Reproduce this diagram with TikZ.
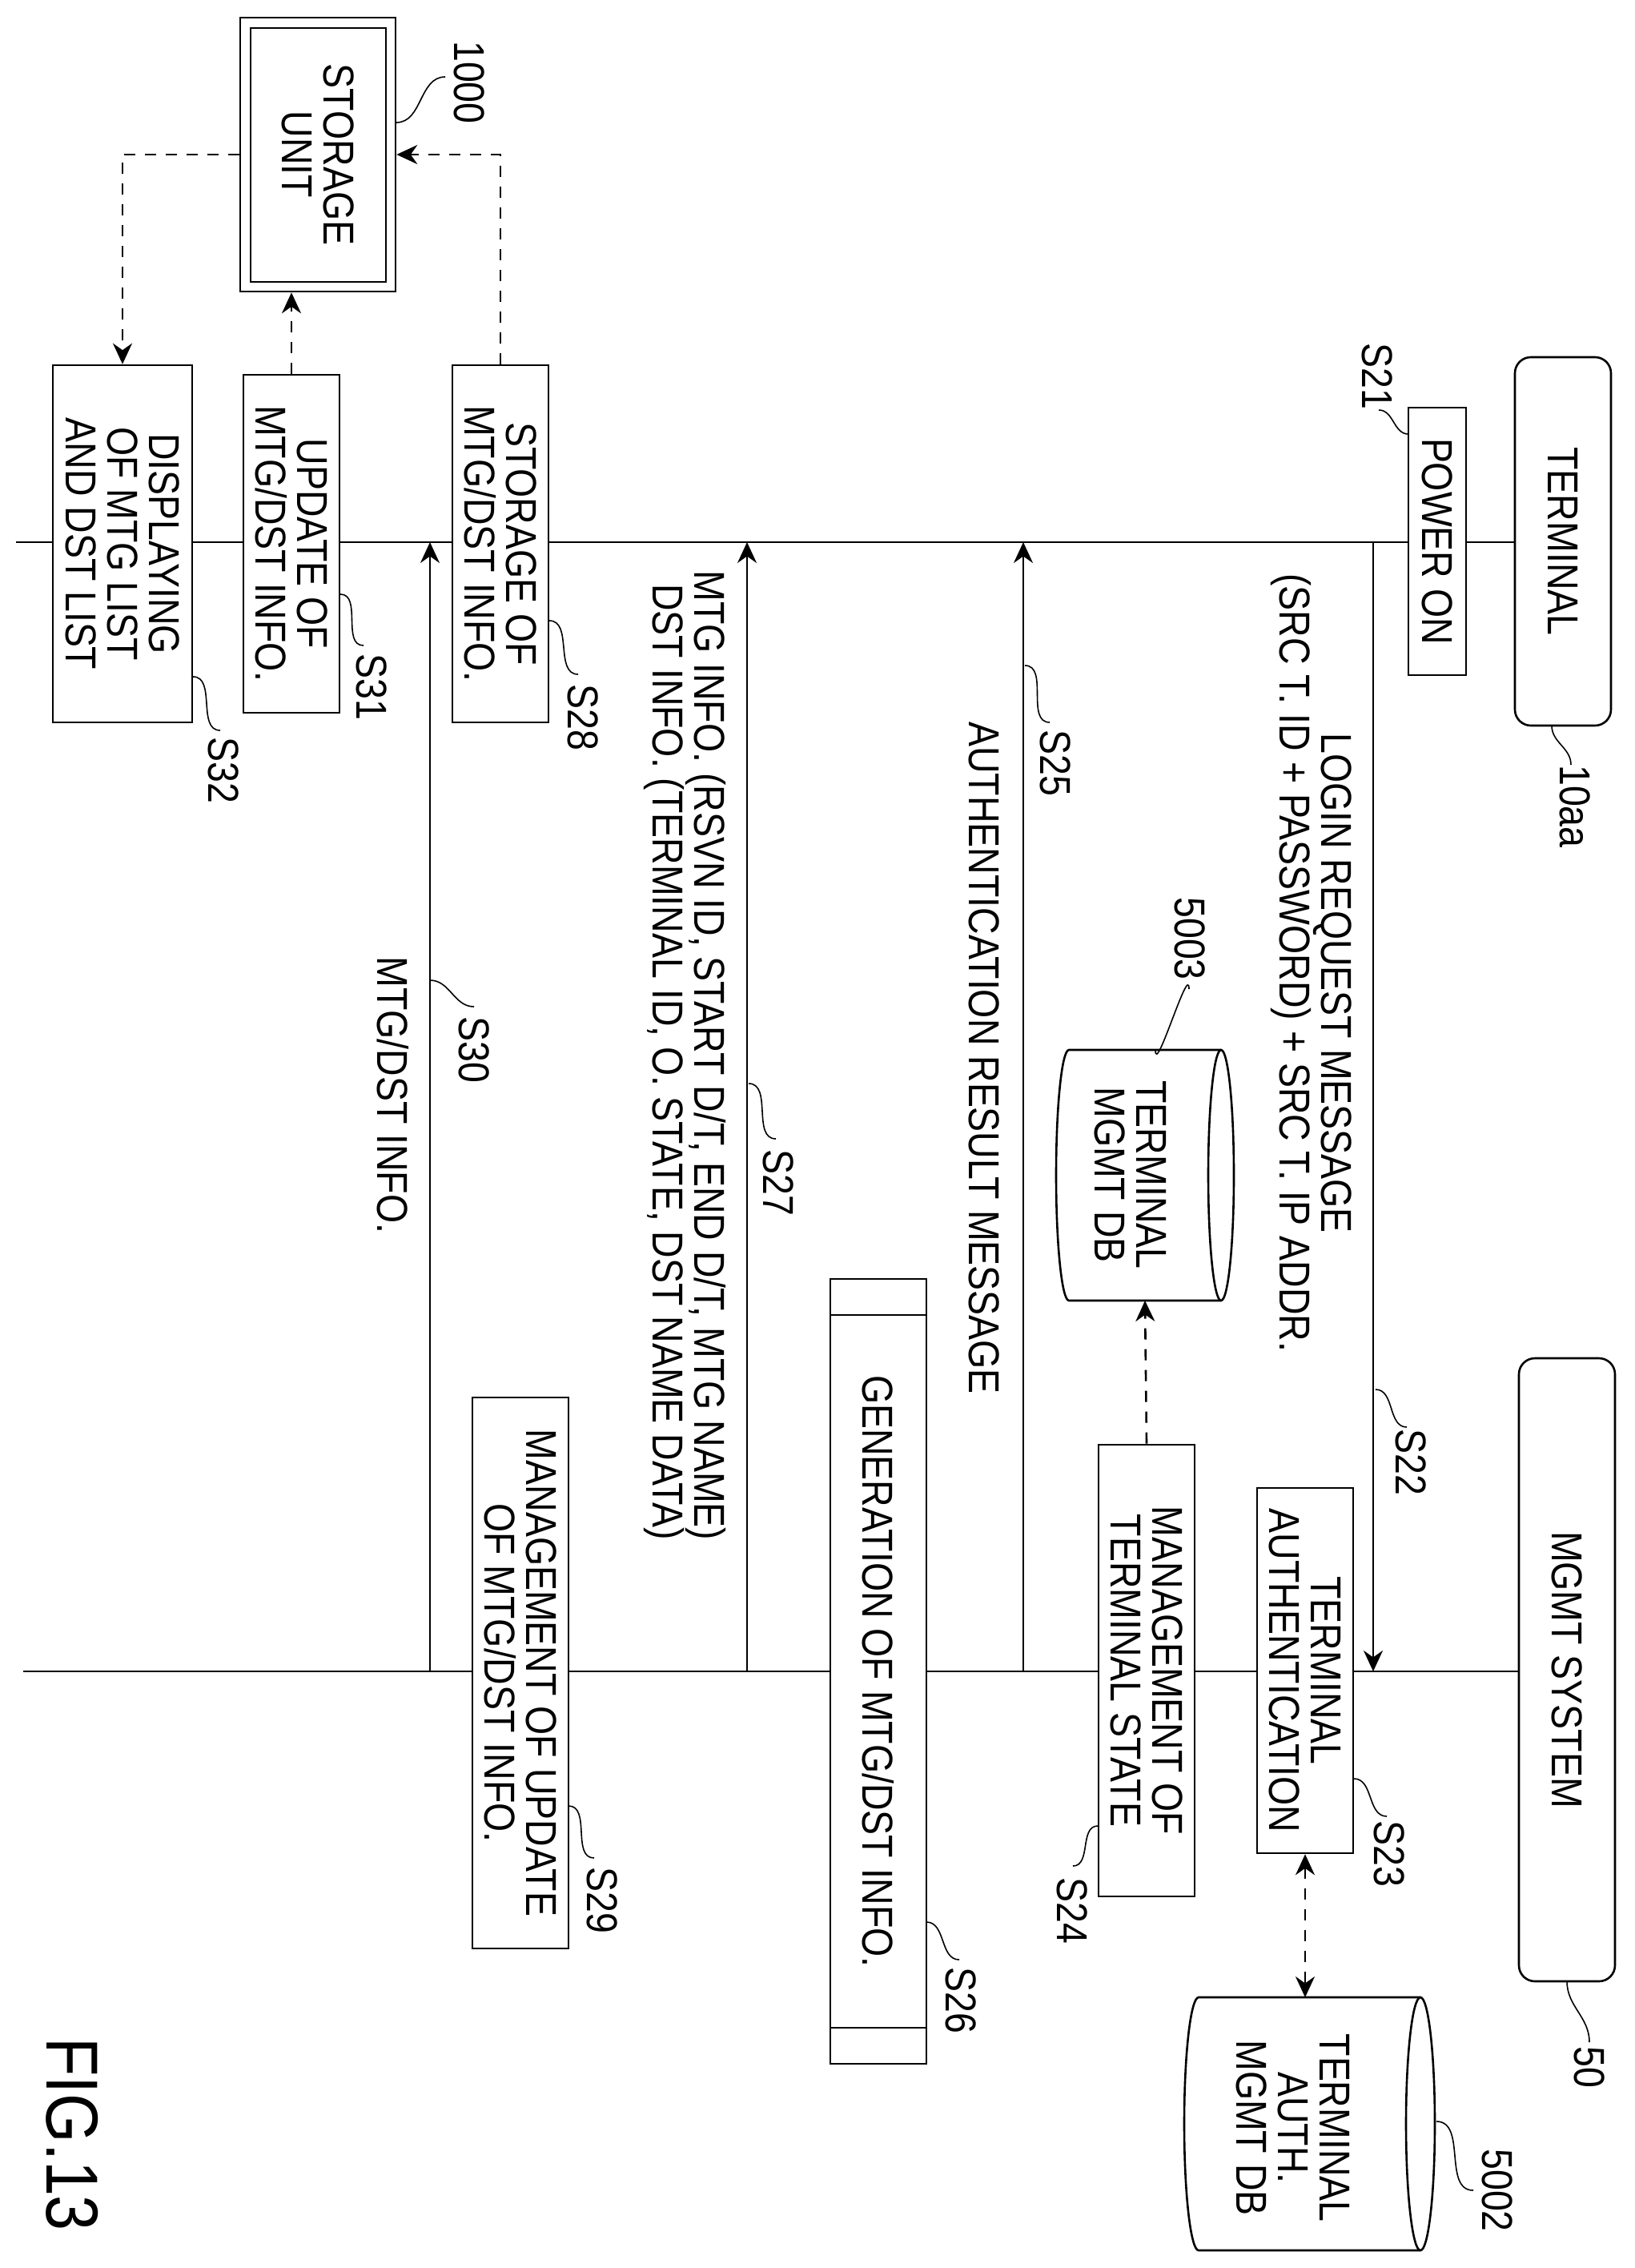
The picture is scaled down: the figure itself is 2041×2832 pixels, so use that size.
\documentclass[tikz,border=0pt]{standalone}
\usepackage{fontspec}
\setmainfont{Liberation Sans}[FakeStretch=0.86]
\usetikzlibrary{arrows.meta}
\begin{document}
\begin{tikzpicture}[x=0.5pt,y=-0.5pt,
  every node/.style={font=\fontsize{27}{26}\selectfont},
  ln/.style={line width=1.3pt},
  box/.style={ln,draw,fill=white,rotate=-90,align=center,inner sep=2pt},
  txt/.style={rotate=-90,inner sep=0pt,align=left},
  arr/.style={ln,-{Stealth[length=13pt,width=12pt]}},
  dsh/.style={ln,dash pattern=on 7pt off 6pt},
  lead/.style={line width=0.8pt}]
\useasboundingbox (0,0) rectangle (2041,2832);
% lifelines
\coordinate (tl0) at (20,677);
\coordinate (ml0) at (29,2087);
\draw[ln] (tl0) -- (1892,677);
\draw[ln] (ml0) -- (1897,2087);
% actors
\node[box,rounded corners=10pt,minimum width=230pt,minimum height=60pt] (term) at (1952,676) {TERMINAL};
\node[box,rounded corners=10pt,minimum width=389pt,minimum height=60pt] (mgmt) at (1957,2085) {MGMT SYSTEM};
% boxes
\node[box,minimum width=167pt,minimum height=36pt] (pwr) at (1795,676) {POWER ON};
\node[box,minimum width=228pt,minimum height=60pt] (s23) at (1630,2086) {TERMINAL\\AUTHENTICATION};
\node[box,minimum width=282pt,minimum height=60pt] (s24) at (1432,2086) {MANAGEMENT OF\\TERMINAL STATE};
\node[box,minimum width=490pt,minimum height=60pt] (s26) at (1097,2087) {GENERATION OF MTG/DST INFO.};
\draw[ln] (1037,1642) -- (1157,1642);
\draw[ln] (1037,2532) -- (1157,2532);
\node[box,minimum width=344pt,minimum height=60pt] (s29) at (650,2089) {MANAGEMENT OF UPDATE\\OF MTG/DST INFO.};
\node[box,minimum width=223pt,minimum height=60pt] (s28) at (625,679) {STORAGE OF\\MTG/DST INFO.};
\node[box,minimum width=211pt,minimum height=60pt] (s31) at (364,679) {UPDATE OF\\MTG/DST INFO.};
\node[box,minimum width=223pt,minimum height=87pt] (s32) at (153,679) {DISPLAYING\\OF MTG LIST\\AND DST LIST};
\node[box,minimum width=171pt,minimum height=97pt] (st) at (397,193) {STORAGE\\UNIT};
\draw[ln] (313,35) rectangle (482,352);
% cylinders
\draw[ln,fill=white] (1525,1311) -- (1335,1311) arc[start angle=90,end angle=270,x radius=8pt,y radius=78.25pt] -- (1525,1624);
\draw[ln] (1525,1467.5) ellipse[x radius=8pt,y radius=78.25pt];
\node[txt,align=center] (db3) at (1412,1467) {TERMINAL\\MGMT DB};
\coordinate (db3b) at (1430,1624);
\draw[ln,fill=white] (1774,2494) -- (1497,2494) arc[start angle=90,end angle=270,x radius=9pt,y radius=79pt] -- (1774,2810);
\draw[ln] (1774,2652) ellipse[x radius=9pt,y radius=79pt];
\node[txt,align=center] (db2) at (1615,2657) {TERMINAL\\AUTH.\\MGMT DB};
\coordinate (db2t) at (1630,2494);
% messages
\coordinate (a22) at (1715,677); \coordinate (b22) at (1715,2087);
\draw[arr] (a22) -- (b22);
\node[txt,anchor=west] (m22a) at (1664,915) {LOGIN REQUEST MESSAGE};
\node[txt,anchor=west] (m22b) at (1612,716) {(SRC T. ID + PASSWORD) + SRC T. IP ADDR.};
\coordinate (a25) at (1278,2087); \coordinate (b25) at (1278,677);
\draw[arr] (a25) -- (b25);
\node[txt,anchor=west] (m25) at (1229,901) {AUTHENTICATION RESULT MESSAGE};
\coordinate (a27) at (933,2087); \coordinate (b27) at (933,677);
\draw[arr] (a27) -- (b27);
\node[txt,anchor=west] (m27a) at (881,712) {MTG INFO. (RSVN ID, START D/T, END D/T, MTG NAME)};
\node[txt,anchor=west] (m27b) at (829,729) {DST INFO. (TERMINAL ID, O. STATE, DST NAME DATA)};
\coordinate (a30) at (537,2087); \coordinate (b30) at (537,677);
\draw[arr] (a30) -- (b30);
\node[txt,anchor=west] (m30) at (491,1194) {MTG/DST INFO.};
% dashed
\draw[dsh,{Stealth[length=13pt,width=12pt]}-{Stealth[length=13pt,width=12pt]}] (s23.east) -- (db2t);
\draw[dsh,-{Stealth[length=13pt,width=12pt]}] (s24.west) -- (db3b);
\draw[dsh,-{Stealth[length=13pt,width=12pt]}] (s28.west) |- (st.north);
\draw[dsh,-{Stealth[length=13pt,width=12pt]}] (s31.west) -- (s31.west |- st.east);
\draw[dsh,-{Stealth[length=13pt,width=12pt]}] (st.south) -| (s32.west);
% labels
\node[txt] (l1000) at (586,103) {1000};
\draw[lead] (495,153) to[out=0,in=180] (556,96);
\node[txt] (l10aa) at (1967,1007) {10aa};
\draw[lead] (1938,906) to[out=-90,in=90] (1962,955);
\node[txt] (l21) at (1720,470) {S21};
\draw[lead] (1759,542) to[out=180,in=0] (1722,512);
\node[txt] (l22) at (1762,1826) {S22};
\draw[lead] (1718,1735) to[out=0,in=180] (1757,1782);
\node[txt] (l23) at (1735,2315) {S23};
\draw[lead] (1691,2221) to[out=0,in=180] (1732,2268);
\node[txt] (l50) at (1985,2581) {50};
\draw[lead] (1957,2474) to[out=-90,in=90] (1985,2550);
\node[txt] (l5002) at (1870,2735) {5002};
\draw[lead] (1794,2649) to[out=0,in=180] (1840,2735);
\node[txt] (l24) at (1339,2386) {S24};
\draw[lead] (1371,2280) to[out=180,in=0] (1340,2330);
\node[txt] (l5003) at (1486,1172) {5003};
\draw[lead] (1443,1311) to[out=-90,in=90] (1485,1235);
\node[txt] (l25) at (1318,953) {S25};
\draw[lead] (1280,831) to[out=0,in=180] (1311,902);
\node[txt] (l26) at (1200,2498) {S26};
\draw[lead] (1157,2400) to[out=0,in=180] (1198,2447);
\node[txt] (l27) at (972,1477) {S27};
\draw[lead] (935,1353) to[out=0,in=180] (969,1422);
\node[txt] (l28) at (728,896) {S28};
\draw[lead] (686,775) to[out=0,in=180] (722,842);
\node[txt] (l29) at (752,2373) {S29};
\draw[lead] (710,2255) to[out=0,in=180] (742,2320);
\node[txt] (l30) at (592,1311) {S30};
\draw[lead] (537,1224) to[out=0,in=180] (592,1257);
\node[txt] (l31) at (464,858) {S31};
\draw[lead] (425,742) to[out=0,in=180] (454,806);
\node[txt] (l32) at (279,962) {S32};
\draw[lead] (241,845) to[out=0,in=180] (275,912);
\node[txt,font=\fontsize{46}{46}\selectfont] (fig) at (90,2665) {FIG.13};
\end{tikzpicture}
\end{document}
